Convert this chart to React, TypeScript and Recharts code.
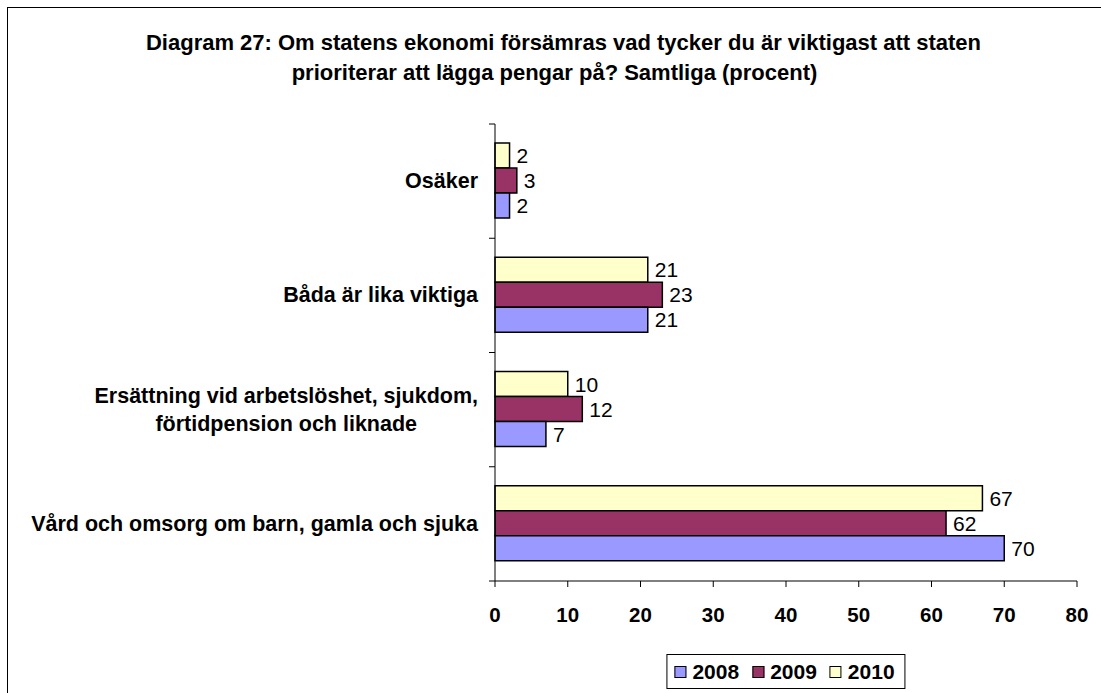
import React from "react";
import { Bar, BarChart, LabelList, XAxis, YAxis } from "recharts";

const categories = [
  "Osäker",
  "Båda är lika viktiga",
  "Ersättning vid arbetslöshet, sjukdom,\nförtidpension och liknade",
  "Vård och omsorg om barn, gamla och sjuka",
];
const values2008 = [2, 21, 7, 70];
const values2009 = [3, 23, 12, 62];
const values2010 = [2, 21, 10, 67];
const xTicks = [0, 10, 20, 30, 40, 50, 60, 70, 80];
const years = ["2008", "2009", "2010"];
const colors = ["#9999FF", "#993366", "#FFFFCC"];
const titleLines = [
  "Diagram 27: Om statens ekonomi försämras vad tycker du är viktigast att staten",
  "prioriterar att lägga pengar på? Samtliga (procent)",
];

const FONT = "'Liberation Sans', Arial, sans-serif";
const CAT_SIZE = 21.5;
const W = 1093;
const H = 685;
const MARGIN = { top: 116, right: 24, left: 0, bottom: 72 };
const X_AXIS_H = 40;
const TICK_GAP = 17;
const BAND = (H - MARGIN.top - MARGIN.bottom - X_AXIS_H) / categories.length;

const data = categories.map((name, i) => ({
  name,
  y2008: values2008[i],
  y2009: values2009[i],
  y2010: values2010[i],
}));

let canvas: HTMLCanvasElement | null = null;
function textWidth(text: string) {
  if (!canvas) canvas = document.createElement("canvas");
  const ctx = canvas.getContext("2d");
  if (!ctx) return text.length * 10;
  ctx.font = `bold ${CAT_SIZE}px ${FONT}`;
  return ctx.measureText(text).width;
}

function CategoryTick(props: any) {
  const { x, y, payload, index } = props;
  const lines: string[] = String(payload.value).split("\n");
  const axisX = x + TICK_GAP;
  const marks = [y - BAND / 2];
  if (index === categories.length - 1) marks.push(y + BAND / 2);
  const ticks = marks.map((ty, k) => (
    <line key={`t${k}`} x1={axisX - 6} x2={axisX} y1={ty} y2={ty} stroke="#000" />
  ));
  if (lines.length === 1) {
    return (
      <g>
        {ticks}
        <text x={x} y={y} textAnchor="end" dominantBaseline="central" fontFamily={FONT} fontSize={CAT_SIZE} fontWeight="bold" fill="#000">
          {lines[0]}
        </text>
      </g>
    );
  }
  const block = Math.max(...lines.map(textWidth));
  const cx = x - block / 2;
  return (
    <g>
      {ticks}
      <text textAnchor="middle" fontFamily={FONT} fontSize={CAT_SIZE} fontWeight="bold" fill="#000">
        {lines.map((line, i) => (
          <tspan key={i} x={cx} y={y + (i - (lines.length - 1) / 2) * 28} dominantBaseline="central">
            {line}
          </tspan>
        ))}
      </text>
    </g>
  );
}

export default function App() {
  return (
    <div
      style={{
        position: "absolute",
        top: 7,
        left: 7,
        width: 1094,
        height: 686,
        boxSizing: "border-box",
        borderTop: "1px solid #000",
        borderLeft: "1px solid #000",
        background: "#fff",
        fontFamily: FONT,
        overflow: "hidden",
      }}
    >
      <div style={{ position: "absolute", top: 20, left: 0, width: W, textAlign: "center", fontSize: 22, fontWeight: "bold", lineHeight: "30px", color: "#000" }}>
        <div style={{ marginLeft: 18 }}>{titleLines[0]}</div>
        <div>{titleLines[1]}</div>
      </div>
      <BarChart
        width={W}
        height={H}
        data={data}
        layout="vertical"
        margin={MARGIN}
        barCategoryGap="16.7%"
        barGap={0}
      >
        <XAxis
          type="number"
          domain={[0, 80]}
          ticks={xTicks}
          height={X_AXIS_H}
          tickSize={6}
          tickMargin={20}
          axisLine={{ stroke: "#000" }}
          tickLine={{ stroke: "#000" }}
          tick={{ fill: "#000", fontSize: 20.5, fontWeight: "bold", fontFamily: FONT }}
        />
        <YAxis
          type="category"
          dataKey="name"
          width={487}
          axisLine={{ stroke: "#000" }}
          tickLine={false}
          tickSize={0}
          tickMargin={TICK_GAP}
          interval={0}
          tick={<CategoryTick />}
        />
        {[2, 1, 0].map((i) => (
          <Bar
            key={years[i]}
            dataKey={`y${years[i]}`}
            fill={colors[i]}
            stroke="#000"
            strokeWidth={1.5}
            isAnimationActive={false}
          >
            <LabelList dataKey={`y${years[i]}`} position="right" offset={7} fill="#000" fontSize={21} fontFamily={FONT} />
          </Bar>
        ))}
      </BarChart>
      <div
        style={{
          position: "absolute",
          top: 646,
          left: 778,
          transform: "translateX(-50%)",
          height: 33,
          border: "1px solid #000",
          display: "flex",
          alignItems: "center",
          padding: "0 10px 0 7px",
          gap: 13,
          fontSize: 21,
          fontWeight: "bold",
          color: "#000",
          whiteSpace: "nowrap",
        }}
      >
        {years.map((year, i) => (
          <div key={year} style={{ display: "flex", alignItems: "center" }}>
            <span style={{ width: 10, height: 10, border: "1.5px solid #000", background: colors[i], marginRight: 6 }} />
            {year}
          </div>
        ))}
      </div>
    </div>
  );
}
